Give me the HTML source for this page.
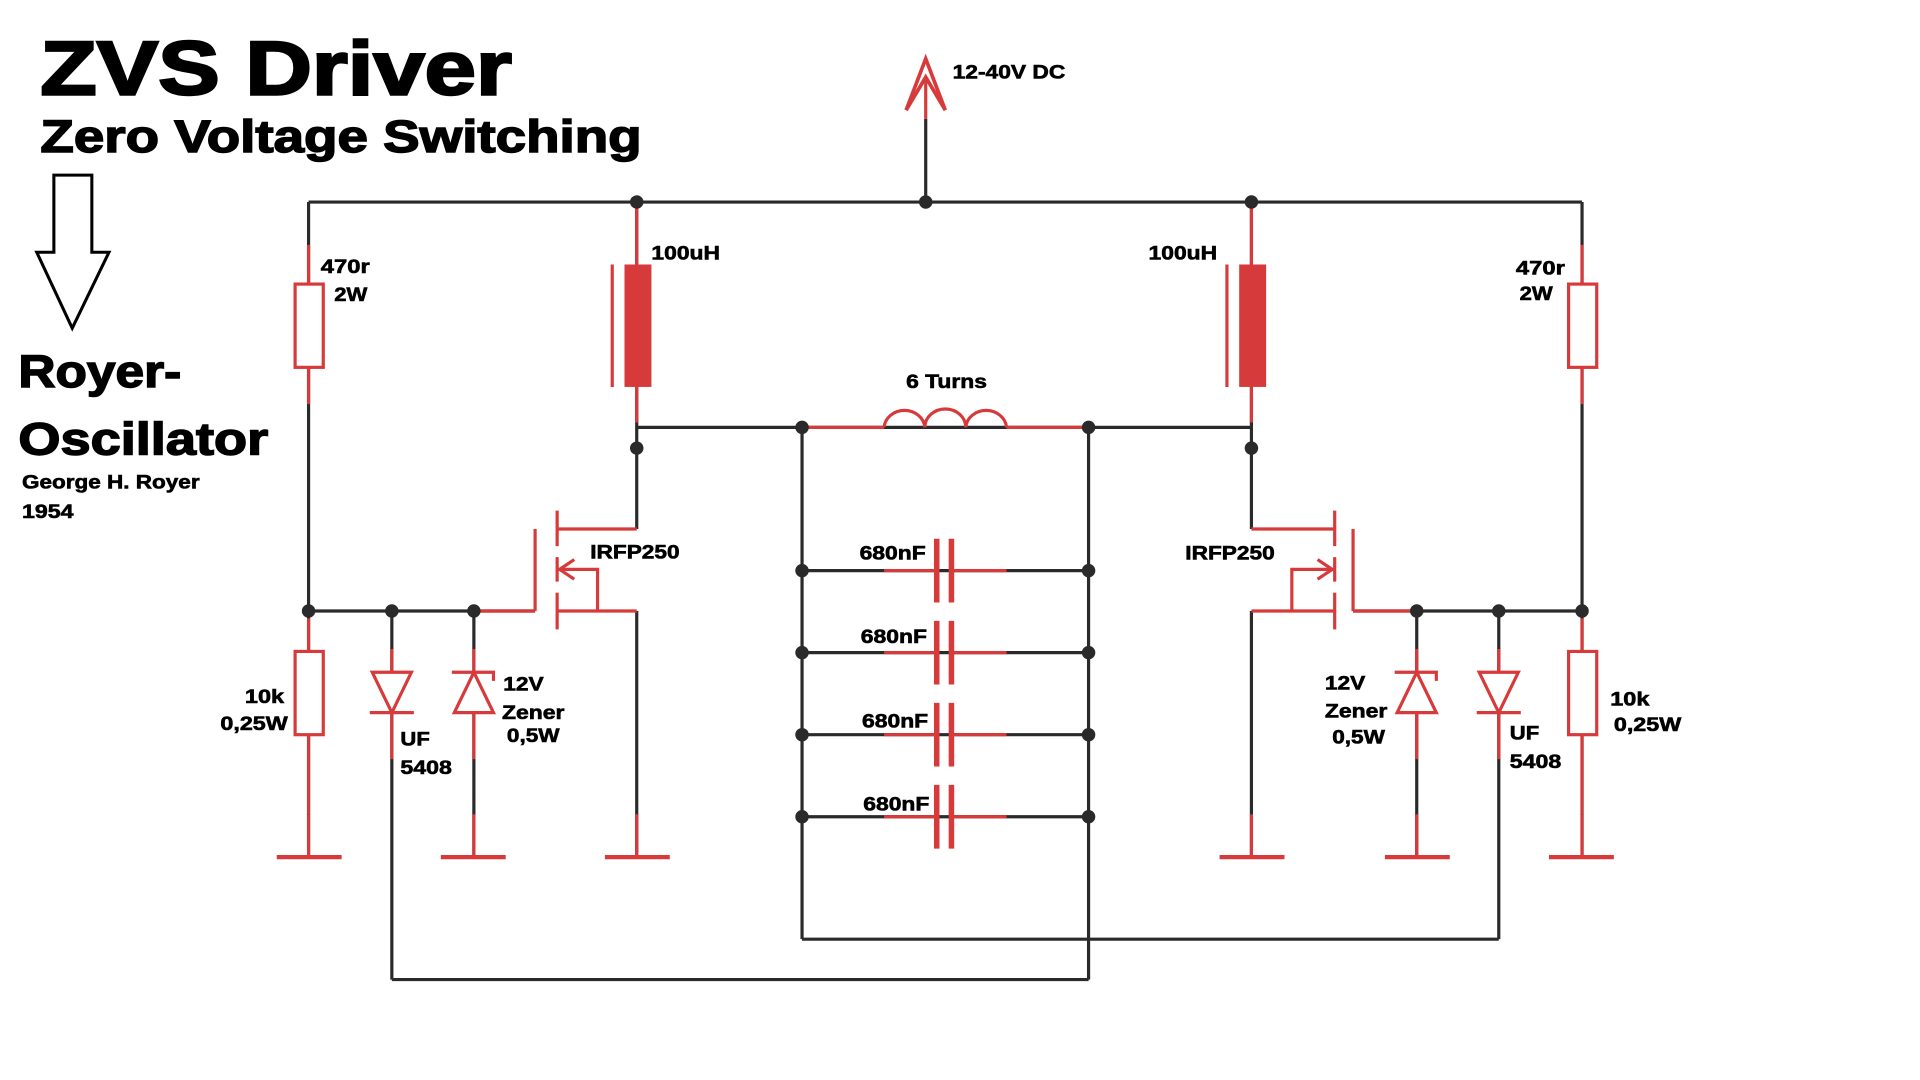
<!DOCTYPE html>
<html><head><meta charset="utf-8"><style>
html,body{margin:0;padding:0;background:#fff;width:1920px;height:1080px;overflow:hidden}
svg{display:block}
text{font-family:"Liberation Sans",Arial,sans-serif;font-weight:bold;fill:#000;stroke:#000;stroke-width:0.5}
</style></head><body>
<svg width="1920" height="1080" viewBox="0 0 1568 882" preserveAspectRatio="none" xmlns="http://www.w3.org/2000/svg">
<g stroke-linecap="butt" fill="none">
<g stroke="#2a2a2a" stroke-width="2.6">
<line x1="252" y1="165" x2="1292" y2="165"/>
<line x1="756" y1="97" x2="756" y2="165"/>
<line x1="252" y1="165" x2="252" y2="700"/>
<line x1="1292" y1="165" x2="1292" y2="700"/>
<line x1="252" y1="499" x2="437" y2="499"/>
<line x1="1105" y1="499" x2="1292" y2="499"/>
<line x1="520" y1="349" x2="1022" y2="349"/>
<line x1="520" y1="165" x2="520" y2="432"/>
<line x1="1022" y1="165" x2="1022" y2="432"/>
<line x1="520" y1="499" x2="520" y2="700"/>
<line x1="1022" y1="499" x2="1022" y2="700"/>
<line x1="320" y1="499" x2="320" y2="800"/>
<line x1="320" y1="800" x2="889" y2="800"/>
<line x1="889" y1="349" x2="889" y2="800"/>
<line x1="655" y1="349" x2="655" y2="767"/>
<line x1="655" y1="767" x2="1224" y2="767"/>
<line x1="1224" y1="499" x2="1224" y2="767"/>
<line x1="387" y1="499" x2="387" y2="700"/>
<line x1="1157" y1="499" x2="1157" y2="700"/>
<line x1="655" y1="466" x2="889" y2="466"/>
<line x1="655" y1="533" x2="889" y2="533"/>
<line x1="655" y1="600" x2="889" y2="600"/>
<line x1="655" y1="667" x2="889" y2="667"/>
</g>
<g stroke="#d63a3a" stroke-width="2.6">
<line x1="756" y1="63" x2="756" y2="97"/>
<polyline points="740,90 756,48 772,90" stroke-width="3"/>
<polyline points="740,90 756,63 772,90" stroke-width="3"/>
<line x1="252" y1="200" x2="252" y2="330"/>
<line x1="1292" y1="200" x2="1292" y2="330"/>
<line x1="252" y1="505" x2="252" y2="665"/>
<line x1="1292" y1="505" x2="1292" y2="665"/>
<rect x="241" y="232" width="23" height="68" fill="#fff"/>
<rect x="1281" y="232" width="23" height="68" fill="#fff"/>
<rect x="241" y="532" width="23" height="68" fill="#fff"/>
<rect x="1281" y="532" width="23" height="68" fill="#fff"/>
<line x1="252" y1="665" x2="252" y2="700"/><line x1="1292" y1="665" x2="1292" y2="700"/>
<line x1="387" y1="665" x2="387" y2="700"/><line x1="1157" y1="665" x2="1157" y2="700"/>
<line x1="520" y1="665" x2="520" y2="700"/><line x1="1022" y1="665" x2="1022" y2="700"/>
<g stroke-width="3.5">
<line x1="226" y1="700" x2="279" y2="700"/>
<line x1="360" y1="700" x2="413" y2="700"/>
<line x1="494" y1="700" x2="547" y2="700"/>
<line x1="996" y1="700" x2="1049" y2="700"/>
<line x1="1131" y1="700" x2="1184" y2="700"/>
<line x1="1265" y1="700" x2="1318" y2="700"/>
</g>
<line x1="520" y1="170" x2="520" y2="345"/>
<line x1="1022" y1="170" x2="1022" y2="345"/>
<line x1="500" y1="216" x2="500" y2="316"/>
<line x1="1002" y1="216" x2="1002" y2="316"/>
<line x1="655" y1="349" x2="722" y2="349"/>
<line x1="822" y1="349" x2="889" y2="349"/>
<path d="M722,349 A16.7,15 0 0 1 755.3,349 A16.7,15 0 0 1 788.7,349 A16.7,15 0 0 1 822,349"/>
<line x1="722" y1="466" x2="764" y2="466"/><line x1="778" y1="466" x2="822" y2="466"/>
<line x1="722" y1="533" x2="764" y2="533"/><line x1="778" y1="533" x2="822" y2="533"/>
<line x1="722" y1="600" x2="764" y2="600"/><line x1="778" y1="600" x2="822" y2="600"/>
<line x1="722" y1="667" x2="764" y2="667"/><line x1="778" y1="667" x2="822" y2="667"/>
<g stroke-width="4.5">
<line x1="765" y1="440" x2="765" y2="492"/><line x1="777" y1="440" x2="777" y2="492"/>
<line x1="765" y1="507" x2="765" y2="559"/><line x1="777" y1="507" x2="777" y2="559"/>
<line x1="765" y1="574" x2="765" y2="626"/><line x1="777" y1="574" x2="777" y2="626"/>
<line x1="765" y1="641" x2="765" y2="693"/><line x1="777" y1="641" x2="777" y2="693"/>
</g>
<line x1="320" y1="530" x2="320" y2="620"/>
<polygon points="304,549 336,549 320,582" fill="#fff"/>
<line x1="302" y1="582" x2="338" y2="582"/>
<line x1="387" y1="530" x2="387" y2="620"/>
<polygon points="371,582 403,582 387,549" fill="#fff"/>
<polyline points="369,549 403,549 403,556"/>
<line x1="1224" y1="530" x2="1224" y2="620"/>
<polygon points="1208,549 1240,549 1224,582" fill="#fff"/>
<line x1="1206" y1="582" x2="1242" y2="582"/>
<line x1="1157" y1="530" x2="1157" y2="620"/>
<polygon points="1141,582 1173,582 1157,549" fill="#fff"/>
<polyline points="1139,549 1173,549 1173,556"/>
<line x1="387" y1="499" x2="437" y2="499"/>
<line x1="437" y1="432" x2="437" y2="499"/>
<line x1="455" y1="417" x2="455" y2="446"/>
<line x1="455" y1="455" x2="455" y2="475"/>
<line x1="455" y1="484" x2="455" y2="514"/>
<line x1="455" y1="432" x2="520" y2="432"/>
<line x1="455" y1="499" x2="520" y2="499"/>
<polyline points="455,465 488,465 488,499"/>
<polyline points="469,457 457,465 469,473"/>
<line x1="1105" y1="499" x2="1157" y2="499"/>
<line x1="1105" y1="432" x2="1105" y2="499"/>
<line x1="1090" y1="417" x2="1090" y2="446"/>
<line x1="1090" y1="455" x2="1090" y2="475"/>
<line x1="1090" y1="484" x2="1090" y2="514"/>
<line x1="1022" y1="432" x2="1090" y2="432"/>
<line x1="1022" y1="499" x2="1090" y2="499"/>
<polyline points="1090,465 1055,465 1055,499"/>
<polyline points="1076,457 1088,465 1076,473"/>
</g>
<rect x="510" y="216" width="22" height="100" fill="#d63a3a" stroke="none"/>
<rect x="1012" y="216" width="22" height="100" fill="#d63a3a" stroke="none"/>
<g fill="#2a2a2a" stroke="none">
<circle cx="520" cy="165" r="5.5"/><circle cx="756" cy="165" r="5.5"/><circle cx="1022" cy="165" r="5.5"/>
<circle cx="520" cy="366" r="5.5"/><circle cx="1022" cy="366" r="5.5"/>
<circle cx="655" cy="349" r="5.5"/><circle cx="889" cy="349" r="5.5"/>
<circle cx="252" cy="499" r="5.5"/><circle cx="320" cy="499" r="5.5"/><circle cx="387" cy="499" r="5.5"/>
<circle cx="1157" cy="499" r="5.5"/><circle cx="1224" cy="499" r="5.5"/><circle cx="1292" cy="499" r="5.5"/>
<circle cx="655" cy="466" r="5.5"/><circle cx="889" cy="466" r="5.5"/>
<circle cx="655" cy="533" r="5.5"/><circle cx="889" cy="533" r="5.5"/>
<circle cx="655" cy="600" r="5.5"/><circle cx="889" cy="600" r="5.5"/>
<circle cx="655" cy="667" r="5.5"/><circle cx="889" cy="667" r="5.5"/>
</g>
<polygon points="44,143 75,143 75,206 89,206 59,268 30,206 44,206" fill="#fff" stroke="#000" stroke-width="2.5"/>
</g>
<text x="33" y="77" font-size="62" textLength="385" lengthAdjust="spacingAndGlyphs" style="stroke-width:2">ZVS Driver</text>
<text x="33" y="124" font-size="37" textLength="491" lengthAdjust="spacingAndGlyphs" style="stroke-width:1.2">Zero Voltage Switching</text>
<text x="15" y="316" font-size="37" textLength="133" lengthAdjust="spacingAndGlyphs" style="stroke-width:1.2">Royer-</text>
<text x="15" y="371" font-size="37" textLength="204" lengthAdjust="spacingAndGlyphs" style="stroke-width:1.2">Oscillator</text>
<g font-size="16" lengthAdjust="spacingAndGlyphs">
<text x="18" y="399" textLength="145" lengthAdjust="spacingAndGlyphs">George H. Royer</text>
<text x="18" y="423" textLength="42" lengthAdjust="spacingAndGlyphs">1954</text>
<text x="778" y="64" textLength="92" lengthAdjust="spacingAndGlyphs">12-40V DC</text>
<text x="532" y="212" textLength="56" lengthAdjust="spacingAndGlyphs">100uH</text>
<text x="938" y="212" textLength="56" lengthAdjust="spacingAndGlyphs">100uH</text>
<text x="262" y="223" textLength="40" lengthAdjust="spacingAndGlyphs">470r</text>
<text x="273" y="246" textLength="27" lengthAdjust="spacingAndGlyphs">2W</text>
<text x="1238" y="224" textLength="40" lengthAdjust="spacingAndGlyphs">470r</text>
<text x="1241" y="245" textLength="27" lengthAdjust="spacingAndGlyphs">2W</text>
<text x="740" y="317" textLength="66" lengthAdjust="spacingAndGlyphs">6 Turns</text>
<text x="482" y="456" textLength="73" lengthAdjust="spacingAndGlyphs">IRFP250</text>
<text x="968" y="457" textLength="73" lengthAdjust="spacingAndGlyphs">IRFP250</text>
<text x="702" y="457" textLength="54" lengthAdjust="spacingAndGlyphs">680nF</text>
<text x="703" y="525" textLength="54" lengthAdjust="spacingAndGlyphs">680nF</text>
<text x="704" y="594" textLength="54" lengthAdjust="spacingAndGlyphs">680nF</text>
<text x="705" y="662" textLength="54" lengthAdjust="spacingAndGlyphs">680nF</text>
<text x="200" y="574" textLength="32" lengthAdjust="spacingAndGlyphs">10k</text>
<text x="180" y="596" textLength="55" lengthAdjust="spacingAndGlyphs">0,25W</text>
<text x="1315" y="576" textLength="32" lengthAdjust="spacingAndGlyphs">10k</text>
<text x="1318" y="597" textLength="55" lengthAdjust="spacingAndGlyphs">0,25W</text>
<text x="327" y="609" textLength="24" lengthAdjust="spacingAndGlyphs">UF</text>
<text x="327" y="632" textLength="42" lengthAdjust="spacingAndGlyphs">5408</text>
<text x="411" y="564" textLength="33" lengthAdjust="spacingAndGlyphs">12V</text>
<text x="410" y="587" textLength="51" lengthAdjust="spacingAndGlyphs">Zener</text>
<text x="414" y="606" textLength="43" lengthAdjust="spacingAndGlyphs">0,5W</text>
<text x="1082" y="563" textLength="33" lengthAdjust="spacingAndGlyphs">12V</text>
<text x="1082" y="586" textLength="51" lengthAdjust="spacingAndGlyphs">Zener</text>
<text x="1088" y="607" textLength="43" lengthAdjust="spacingAndGlyphs">0,5W</text>
<text x="1233" y="604" textLength="24" lengthAdjust="spacingAndGlyphs">UF</text>
<text x="1233" y="627" textLength="42" lengthAdjust="spacingAndGlyphs">5408</text>
</g>
</svg>
</body></html>
